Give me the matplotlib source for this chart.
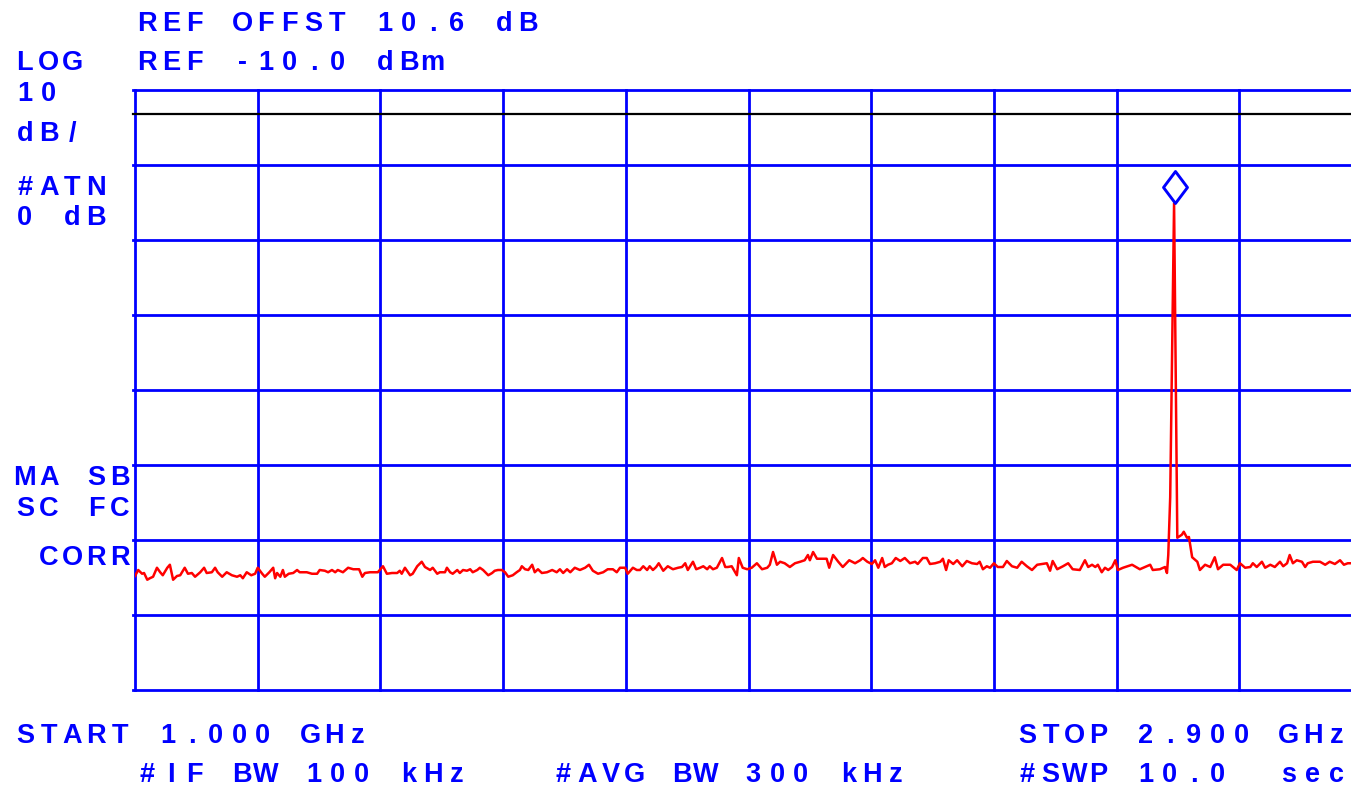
import numpy as np
import matplotlib
matplotlib.use('Agg')
import matplotlib.pyplot as plt
from matplotlib import transforms
from matplotlib.path import Path

# sweep settings
start_mhz = 1000
stop_mhz = 2900
ref_level = -10.0
db_per_div = 10
n_div_y = 8
n_div_x = 10
display_line = -13.2

# trace (MHz, dBm)
freq_mhz = [
    1000, 1005, 1011, 1014, 1019, 1023, 1028, 1034, 1039, 1043,
    1050, 1054, 1059, 1065, 1070, 1077, 1082, 1088, 1093, 1101,
    1107, 1111, 1119, 1124, 1128, 1135, 1142, 1150, 1158, 1163,
    1167, 1173, 1180, 1186, 1190, 1197, 1201, 1208, 1214, 1217,
    1220, 1225, 1229, 1232, 1238, 1245, 1251, 1255, 1266, 1274,
    1282, 1286, 1294, 1299, 1305, 1310, 1314, 1322, 1330, 1338,
    1347, 1352, 1356, 1364, 1376, 1384, 1390, 1398, 1406, 1410,
    1413, 1418, 1426, 1430, 1437, 1444, 1449, 1457, 1461, 1468,
    1472, 1480, 1483, 1488, 1492, 1499, 1503, 1508, 1514, 1519,
    1523, 1530, 1534, 1539, 1547, 1553, 1557, 1562, 1568, 1573,
    1578, 1585, 1591, 1596, 1599, 1604, 1609, 1615, 1619, 1624,
    1630, 1638, 1646, 1653, 1658, 1663, 1669, 1674, 1681, 1689,
    1697, 1703, 1709, 1717, 1725, 1732, 1740, 1746, 1751, 1759,
    1763, 1771, 1777, 1782, 1787, 1793, 1797, 1802, 1807, 1811,
    1818, 1825, 1833, 1841, 1847, 1852, 1856, 1864, 1869, 1875,
    1880, 1886, 1890, 1895, 1901, 1909, 1914, 1918, 1924, 1932,
    1935, 1941, 1948, 1955, 1963, 1971, 1979, 1983, 1988, 1994,
    1999, 2006, 2014, 2022, 2030, 2037, 2042, 2045, 2050, 2056,
    2071, 2075, 2081, 2089, 2096, 2106, 2115, 2123, 2127, 2134,
    2141, 2146, 2151, 2157, 2161, 2166, 2172, 2178, 2185, 2192,
    2200, 2208, 2212, 2220, 2226, 2231, 2239, 2247, 2251, 2256,
    2260, 2267, 2273, 2281, 2288, 2296, 2304, 2308, 2313, 2319,
    2324, 2330, 2336, 2344, 2350, 2358, 2366, 2373, 2381, 2389,
    2397, 2404, 2412, 2417, 2421, 2428, 2437, 2445, 2452, 2463,
    2471, 2476, 2482, 2487, 2491, 2497, 2502, 2507, 2513, 2518,
    2522, 2530, 2544, 2556, 2564, 2572, 2576, 2587, 2595, 2598,
    2600, 2603, 2609, 2614, 2621, 2624, 2629, 2632, 2637, 2645,
    2649, 2657, 2665, 2672, 2677, 2685, 2696, 2706, 2711, 2719,
    2727, 2731, 2737, 2745, 2750, 2758, 2765, 2773, 2778, 2784,
    2788, 2793, 2799, 2807, 2812, 2816, 2824, 2835, 2843, 2850,
    2858, 2866, 2872, 2878, 2883, 2891, 2900,
]
level_dbm = [
    -74.8, -74.0, -74.5, -74.4, -75.3, -75.1, -74.9, -73.7, -74.3, -74.7,
    -73.7, -73.3, -75.3, -74.8, -74.7, -73.7, -74.5, -74.4, -74.9, -74.3,
    -73.7, -74.4, -74.3, -73.7, -74.3, -74.9, -74.3, -74.7, -74.9, -74.7,
    -75.1, -74.3, -74.7, -74.5, -73.7, -74.5, -74.9, -74.3, -73.7, -75.1,
    -74.4, -74.9, -74.0, -74.9, -74.5, -74.4, -74.0, -74.3, -74.3, -74.5,
    -74.5, -74.0, -74.1, -74.3, -74.0, -74.3, -74.0, -74.3, -73.7, -73.9,
    -73.9, -74.9, -74.4, -74.3, -74.3, -73.5, -74.5, -74.4, -74.4, -74.1,
    -74.5, -73.7, -74.7, -74.5, -73.5, -72.9, -73.6, -74.0, -73.7, -74.5,
    -74.3, -74.3, -73.7, -74.3, -74.5, -74.0, -74.4, -74.0, -74.1, -73.9,
    -74.3, -74.0, -73.7, -74.0, -74.7, -74.4, -74.1, -74.0, -74.0, -74.3,
    -74.9, -74.7, -74.3, -74.0, -73.5, -73.9, -74.0, -73.3, -74.3, -73.9,
    -74.4, -74.3, -74.0, -74.3, -73.9, -74.4, -73.9, -74.3, -73.7, -74.0,
    -73.7, -73.3, -74.1, -74.5, -74.3, -73.9, -73.9, -74.3, -73.7, -73.7,
    -74.5, -73.7, -74.0, -74.0, -73.5, -74.0, -73.5, -74.0, -73.6, -73.1,
    -74.1, -73.5, -73.9, -73.7, -73.6, -73.1, -74.0, -72.9, -73.9, -73.7,
    -73.5, -73.9, -73.5, -73.9, -73.7, -72.4, -73.6, -73.6, -73.5, -74.7,
    -72.4, -73.7, -73.9, -73.7, -73.1, -73.9, -73.7, -73.3, -71.6, -73.3,
    -72.9, -73.1, -73.6, -73.1, -72.9, -72.7, -72.0, -72.7, -71.6, -72.5,
    -72.5, -73.7, -72.0, -72.9, -73.6, -72.7, -73.1, -72.7, -72.4, -72.9,
    -73.2, -72.7, -73.7, -72.4, -73.6, -73.3, -73.1, -72.4, -72.8, -72.4,
    -73.1, -72.9, -73.2, -72.4, -72.4, -73.2, -73.1, -72.9, -72.5, -74.0,
    -72.7, -73.2, -72.7, -73.5, -72.8, -73.1, -73.2, -72.9, -73.9, -73.5,
    -73.7, -73.1, -73.6, -73.6, -72.8, -73.5, -73.7, -72.9, -73.5, -74.0,
    -73.3, -73.2, -73.1, -74.1, -72.8, -73.9, -73.5, -73.1, -73.9, -74.0,
    -72.7, -73.6, -73.3, -73.6, -73.3, -74.3, -73.7, -74.0, -73.6, -72.7,
    -74.0, -73.7, -73.3, -73.9, -73.6, -73.3, -74.0, -73.9, -73.6, -74.4,
    -72.0, -64.3, -25.1, -69.7, -69.3, -68.9, -69.7, -69.6, -72.3, -72.9,
    -74.0, -73.3, -73.6, -72.3, -73.9, -73.3, -73.3, -74.0, -73.1, -73.7,
    -73.6, -73.1, -73.6, -72.9, -73.7, -73.3, -73.6, -72.9, -73.5, -73.1,
    -72.0, -73.1, -72.7, -72.9, -73.6, -73.1, -72.9, -72.9, -73.3, -72.9,
    -73.2, -72.7, -73.3, -73.1, -73.1, -72.9, -73.2,
]

W, H = 1351, 787
fig = plt.figure(figsize=(W / 100, H / 100), dpi=100)
fig.patch.set_facecolor('white')

# graticule: 10 divisions wide, the last column runs off the right edge
ax = fig.add_axes([135 / W, 97 / H, 1227 / W, 600 / H])
ax.set_xlim(start_mhz, stop_mhz)
bottom = ref_level - n_div_y * db_per_div
ax.set_ylim(bottom, ref_level)
ax.axis('off')

blue = '#0000ff'
for f in np.linspace(start_mhz, stop_mhz, n_div_x + 1):
    ax.axvline(f, color=blue, lw=2.0, clip_on=False, zorder=1)
for lvl in np.linspace(bottom, ref_level, n_div_y + 1):
    ax.axhline(lvl, xmin=-0.0017, xmax=1, color=blue, lw=2.0, clip_on=False, zorder=1)

ax.axhline(display_line, xmin=-0.0017, xmax=1, color='black', lw=1.6, clip_on=False, zorder=2)

ax.plot(freq_mhz, level_dbm, color='red', lw=1.8, zorder=3, solid_joinstyle='round')

# peak marker sits just above the signal
ipk = int(np.argmax(level_dbm))
diamond = Path([(0, 1), (0.75, 0), (0, -1), (-0.75, 0), (0, 1)],
               [Path.MOVETO, Path.LINETO, Path.LINETO, Path.LINETO, Path.CLOSEPOLY])
mk_trans = transforms.offset_copy(ax.transData, fig=fig, x=1, y=16, units='dots')
ax.plot([freq_mhz[ipk]], [level_dbm[ipk]], marker=diamond, ms=23, mfc='none',
        mec=blue, mew=2.1, transform=mk_trans, clip_on=False, zorder=4)

# annotation text, fixed character cell like the analyzer screen
ov = fig.add_axes([0, 0, 1, 1], facecolor='none')
ov.set_xlim(0, W)
ov.set_ylim(H, 0)
ov.axis('off')

pitch = 23.8


def hp_text(x0, base, s):
    for i, ch in enumerate(s):
        if ch == ' ':
            continue
        ov.text(x0 + pitch * (i + 0.5), base, ch, ha='center', va='baseline',
                fontsize=19.5, fontweight='bold', color=blue,
                family='Liberation Sans')


hp_text(135, 31, 'REF OFFST 10.6 dB')
hp_text(13, 70, 'LOG')
hp_text(135, 70, 'REF -10.0 dBm')
hp_text(13, 101, '10')
hp_text(13, 141, 'dB/')
hp_text(13, 195, '#ATN')
hp_text(13, 225, '0 dB')
hp_text(13, 485, 'MA SB')
hp_text(13, 516, 'SC FC')
hp_text(13, 565, ' CORR')
hp_text(13, 743, 'START 1.000 GHz')
hp_text(1015, 743, 'STOP 2.900 GHz')
hp_text(135, 782, '#IF BW 100 kHz')
hp_text(551, 782, '#AVG BW 300 kHz')
hp_text(1015, 782, '#SWP 10.0  sec')

fig.savefig('out.png', dpi=100)
